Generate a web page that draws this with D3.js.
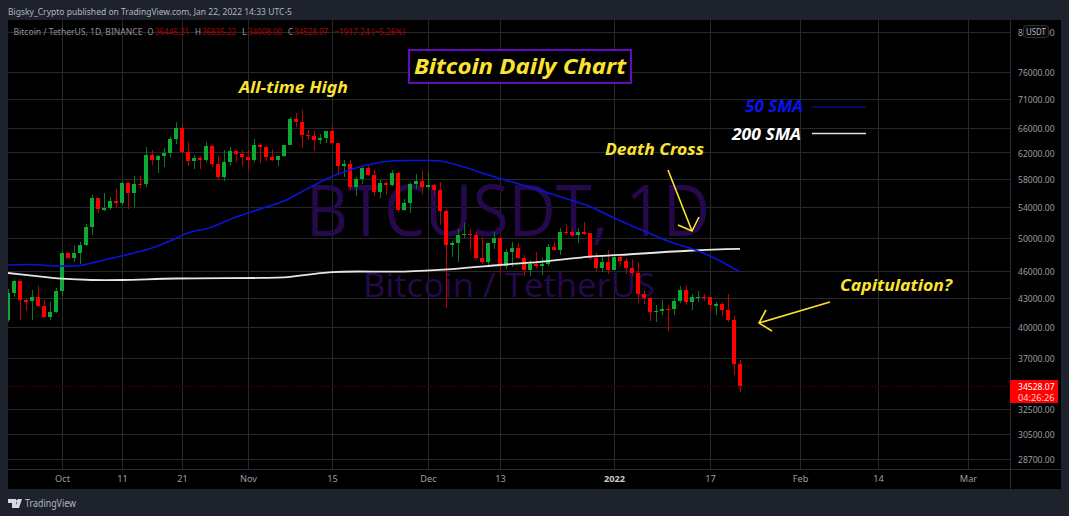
<!DOCTYPE html>
<html><head><meta charset="utf-8">
<style>html,body{margin:0;padding:0;background:#1e222d}svg{display:block}</style>
<script src="https://cdn.jsdelivr.net/npm/d3@7"></script></head><body><div id="c"></div>
<script>
const startDay = "2021-09-22";
const opens = [40700,43560,44880,42810,42670,43160,42147,41026,41522,43820,48141,47634,48200,49224,51471,55315,53785,53951,54949,54659,57471,56006,57370,57347,61672,60875,61528,62036,64280,66001,62193,60688,61286,60852,63078,60328,58413,60575,62253,61859,61299,60911,63254,62896,61395,60940,61470,63273,67525,66947,64882,64774,64122,64380,65519,63606,60058,60344,56891,58057,59707,58617,56247,57541,57138,58960,53723,54716,57274,57776,56950,57184,56484,53601,49152,49396,50441,50588,50471,47535,47140,49389,50053,46702,48336,48864,47632,46133,46834,46682,46914,48887,48588,50838,50820,50399,50775,50701,47543,46464,47120,46217,47722,47286,46446,45832,43451,43082,41566,41679,41864,41820,42735,43920,42591,43099,43172,43118,42250,42375,41744,40680,36445];
const highs = [44000,45000,45200,42966,43950,44350,42787,42590,44141,48495,48336,49228,49536,51886,55750,55332,56100,55489,56561,57839,57680,58550,58532,62933,62378,61718,62695,64486,67000,66639,63732,61747,61500,63710,63293,61496,62499,62980,62359,62405,62437,64270,63500,63086,62603,61560,63286,67789,68524,69000,65600,65450,65000,65550,66401,63617,60840,60976,58320,59845,60029,59444,57850,57700,59398,59150,55280,57445,58865,59176,59053,57375,57600,53859,49699,51200,51936,51200,50797,50125,49485,50777,50205,48700,49500,49436,48004,47360,48300,47537,49328,49576,51375,51864,51156,51280,52088,50704,48139,47900,48548,47954,47990,47570,47505,47070,43783,43145,42300,42786,42248,43000,44322,44500,43447,43800,43475,43194,42650,42575,43505,41100,36835];
const lows = [40550,43100,40750,41646,40750,42098,40888,40753,41410,43283,47430,47088,46891,49022,50382,53357,53617,53661,54080,54415,53879,54167,56818,56850,60150,58963,59844,61322,63481,62000,60000,59562,59510,60650,59817,58000,57820,60174,60673,59945,59405,60624,60382,60677,60721,60050,61322,63273,66222,62822,64100,62278,63360,63576,63400,58574,58373,56474,55600,57353,58486,55610,55317,55837,57000,53500,53610,53256,56666,55875,56458,55777,51680,42000,47727,47100,50039,48600,47320,46852,46751,48638,45672,46290,46547,47511,45456,45500,46406,45558,46630,48421,47920,50456,50200,49412,50449,47313,46096,45900,45678,46208,46654,45696,45516,42500,42430,40610,40501,41200,39650,41268,42450,42311,41742,42578,42691,41540,41268,41138,40500,35440,34008];
const closes = [43560,44880,42840,42670,43160,42147,41026,41522,43790,48141,47634,48200,49224,51471,55315,53785,53951,54949,54659,57471,56006,57370,57347,61672,60875,61528,62036,64280,66001,62193,60688,61286,60852,63078,60328,58413,60575,62253,61859,61299,60911,63219,62896,61395,60937,61470,63273,67525,66947,64882,64774,64122,64380,65519,63606,60058,60344,56891,58052,59707,58622,56247,57541,57138,58960,53726,54721,57274,57776,56950,57184,56480,53601,49152,49396,50441,50588,50471,47545,47140,49389,50053,46702,48343,48864,47632,46131,46834,46681,46914,48887,48588,50838,50820,50400,50775,50701,47543,46464,47120,46216,47722,47286,46446,45832,43451,43082,41566,41679,41864,41822,42735,43920,42591,43099,43177,43113,42250,42375,41744,40680,36445,34528];

const sma50Dates = ["2021-09-22","2021-09-26","2021-09-30","2021-10-04","2021-10-07","2021-10-13","2021-10-16","2021-10-19","2021-10-22","2021-10-26","2021-10-30","2021-11-03","2021-11-07","2021-11-10","2021-11-15","2021-11-19","2021-11-24","2021-11-30","2021-12-03","2021-12-07","2021-12-10","2021-12-15","2021-12-20","2021-12-25","2021-12-28","2022-01-01","2022-01-06","2022-01-10","2022-01-15","2022-01-18","2022-01-22"];
const sma50Values = [46760,46820,46640,46700,47180,48200,48810,49670,50680,51450,52760,53840,54930,56260,58420,59690,60680,60830,60750,59840,58950,57630,56340,55000,54190,52630,50950,49670,48440,47500,45940];
const sma200Dates = ["2021-09-22","2021-09-26","2021-10-01","2021-10-06","2021-10-11","2021-10-20","2021-11-03","2021-11-07","2021-11-15","2021-11-27","2021-12-05","2021-12-13","2021-12-21","2021-12-28","2022-01-02","2022-01-14","2022-01-22"];
const sma200Values = [45830,45520,45180,45030,45030,45200,45260,45320,45940,46000,46290,46760,47230,47770,47960,48500,48690];

const priceTicks = [84000,76000,71000,66000,62000,58000,54000,50000,46000,43000,40000,37000,32500,30500,28700];
const timeTickDates = ["2021-10-01","2021-10-11","2021-10-21","2021-11-01","2021-11-15","2021-12-01","2021-12-13","2022-01-01","2022-01-17","2022-02-01","2022-02-14","2022-03-01"];
const timeTickLabels = ["Oct","11","21","Nov","15","Dec","13","2022","17","Feb","14","Mar"];
const lastPrice = 34528.07;
const countdown = "04:26:26";

const W=1069,H=516, L=8,R=1061,T=20,B=489, PX=1010, TY=469;
const UI="'Noto Sans',sans-serif", ANN="'Noto Sans',sans-serif";
const day=s=>new Date(s+"T00:00:00Z");
const x=d3.scaleUtc().domain([day("2021-09-22"),day("2022-03-01")]).range([8,968]);
const y=d3.scaleLog().domain([76000,28700]).range([72,459]);
const svg=d3.select("#c").append("svg").attr("width",W).attr("height",H).attr("viewBox",[0,0,W,H]);
svg.append("rect").attr("width",W).attr("height",H).attr("fill","#1e222d");
svg.append("rect").attr("x",L).attr("y",T).attr("width",R-L).attr("height",B-T).attr("fill","#000");
const defs=svg.append("defs");
defs.append("clipPath").attr("id","plot").append("rect").attr("x",L).attr("y",T).attr("width",PX-L).attr("height",TY-T);

// grid
const grid=svg.append("g").attr("shape-rendering","crispEdges").attr("stroke","#282828");
grid.selectAll("line.h").data(priceTicks).join("line").attr("class","h").attr("x1",L).attr("x2",PX).attr("y1",d=>y(d)).attr("y2",d=>y(d));
grid.selectAll("line.v").data(timeTickDates).join("line").attr("class","v").attr("y1",T).attr("y2",TY).attr("x1",d=>x(day(d))).attr("x2",d=>x(day(d)));

// watermark
const wm=svg.append("g").attr("fill","#26094c").attr("text-anchor","middle").attr("font-family","'Open Sans',sans-serif");
wm.append("text").attr("x",508).attr("y",236).attr("font-size",72).attr("textLength",404).attr("lengthAdjust","spacingAndGlyphs").text("BTCUSDT, 1D");
wm.append("text").attr("x",509).attr("y",297).attr("font-size",33).attr("textLength",292).attr("lengthAdjust","spacingAndGlyphs").text("Bitcoin / TetherUS");

const plot=svg.append("g").attr("clip-path","url(#plot)");
// candles
const candles=d3.range(opens.length).map(i=>{const t=day(startDay);t.setUTCDate(t.getUTCDate()+i);return{t,o:opens[i],h:highs[i],l:lows[i],c:closes[i]}});
const up=d=>d.c>=d.o;
const cg=plot.append("g").attr("shape-rendering","crispEdges");
cg.selectAll("line").data(candles).join("line")
 .attr("x1",d=>x(d.t)).attr("x2",d=>x(d.t)).attr("y1",d=>y(d.h)).attr("y2",d=>y(d.l))
 .attr("stroke",d=>up(d)?"#067a1e":"#c00000");
cg.selectAll("rect").data(candles).join("rect")
 .attr("x",d=>x(d.t)-2).attr("width",4)
 .attr("y",d=>y(Math.max(d.o,d.c))).attr("height",d=>Math.max(1.5,Math.abs(y(d.o)-y(d.c))))
 .attr("fill",d=>up(d)?"#0caa32":"#ff0000");

// SMA lines
const line=d3.line().curve(d3.curveCatmullRom).x(d=>x(d[0])).y(d=>y(d[1]));
plot.append("path").datum(sma200Dates.map((d,i)=>[day(d),sma200Values[i]])).attr("d",line).attr("fill","none").attr("stroke","#e6e6e6").attr("stroke-width",1.8);
plot.append("path").datum(sma50Dates.map((d,i)=>[day(d),sma50Values[i]])).attr("d",line).attr("fill","none").attr("stroke","#0a14d8").attr("stroke-width",1.6);

// last price dotted line
svg.append("line").attr("x1",L).attr("x2",PX).attr("y1",Math.round(y(lastPrice))+.5).attr("y2",Math.round(y(lastPrice))+.5)
 .attr("stroke","#6a0000").attr("stroke-dasharray","1,2");

// frame lines
const fr=svg.append("g").attr("stroke","#2a2e39").attr("shape-rendering","crispEdges");
fr.append("line").attr("x1",PX).attr("x2",PX).attr("y1",T).attr("y2",B);
fr.append("line").attr("x1",L).attr("x2",R).attr("y1",TY).attr("y2",TY);

// axes
const axR=svg.append("g").attr("transform",`translate(${PX},0)`).call(d3.axisRight(y).tickValues(priceTicks).tickSize(0).tickPadding(8).tickFormat(d3.format(".2f")));
axR.select(".domain").remove();
axR.selectAll("text").attr("fill","#9b9ea3").attr("font-family",UI).attr("font-size",9.8).attr("textLength",36.6).attr("lengthAdjust","spacingAndGlyphs");
const axB=svg.append("g").attr("transform",`translate(0,${TY})`).call(d3.axisBottom(x).tickValues(timeTickDates.map(day)).tickSize(0).tickPadding(6).tickFormat((d,i)=>timeTickLabels[i]));
axB.select(".domain").remove();
axB.selectAll("text").attr("fill","#9b9ea3").attr("font-family",UI).attr("font-size",9.2);
axB.selectAll("text").filter((d,i)=>timeTickLabels[i]==="2022").attr("font-weight","bold").attr("fill","#c8cad0");

// USDT chip
svg.append("rect").attr("x",1023.5).attr("y",25.5).attr("width",25).attr("height",12).attr("rx",3).attr("fill","#0a0a0a").attr("stroke","#2a2e39");
svg.append("text").attr("x",1026).attr("y",34.5).attr("fill","#b2b5be").attr("font-family",UI).attr("font-size",9).attr("textLength",20).attr("lengthAdjust","spacingAndGlyphs").text("USDT");

// price label
svg.append("rect").attr("x",PX).attr("y",380).attr("width",48).attr("height",23).attr("fill","#ff0000");
svg.append("text").attr("x",1018).attr("y",389.5).attr("fill","#fff").attr("font-family",UI).attr("font-size",9.6).attr("textLength",36.6).attr("lengthAdjust","spacingAndGlyphs").text(lastPrice.toFixed(2));
svg.append("text").attr("x",1018).attr("y",400.5).attr("fill","#ffd0d0").attr("font-family",UI).attr("font-size",9.6).attr("textLength",36.6).attr("lengthAdjust","spacingAndGlyphs").text(countdown);

// header
svg.append("text").attr("x",8).attr("y",15).attr("fill","#b2b5be").attr("font-family",UI).attr("font-size",9.6).attr("textLength",284).attr("lengthAdjust","spacingAndGlyphs").text("Bigsky_Crypto published on TradingView.com, Jan 22, 2022 14:33 UTC-5");
const hdr=(t,xx,w,c)=>svg.append("text").attr("x",xx).attr("y",35).attr("fill",c).attr("font-family",UI).attr("font-size",9.4).attr("textLength",w).attr("lengthAdjust","spacingAndGlyphs").text(t);
const grey="#8f9298", dred="#b00000";
hdr("Bitcoin / TetherUS, 1D, BINANCE",13.5,129,grey);
hdr("O",147.5,6,grey); hdr("36445.31",155,34,dred);
hdr("H",195,6,grey); hdr("36835.22",202,34,dred);
hdr("L",242,5,grey); hdr("34008.00",248,34,dred);
hdr("C",288,5,grey); hdr("34528.07",294,34,dred);
hdr("−1917.24 (−5.26%)",334,71,dred);

// title & annotations
svg.append("rect").attr("x",409).attr("y",50).attr("width",222).attr("height",33).attr("fill","#000").attr("stroke","#7f0df0").attr("stroke-width",1.6);
const ann=(t,xx,yy,fs,c,w)=>svg.append("text").attr("x",xx).attr("y",yy).attr("fill",c).attr("font-family",ANN).attr("font-weight","bold").attr("font-style","italic").attr("font-size",fs).attr("textLength",w).attr("lengthAdjust","spacingAndGlyphs").text(t);
const yel="#fbe330";
ann("Bitcoin Daily Chart",414,74,22,yel,212);
ann("All-time High",239,93,16,yel,109);
ann("Death Cross",605,155,16,yel,99);
ann("Capitulation?",840,291,16,yel,112);
ann("50 SMA",745,112,16,"#0a14ee",58);
ann("200 SMA",732,140,16,"#fff",69);

// legend lines
svg.append("line").attr("x1",812).attr("x2",866).attr("y1",107).attr("y2",107).attr("stroke","#0a14c8").attr("stroke-width",1.2);
svg.append("line").attr("x1",812).attr("x2",866).attr("y1",133.5).attr("y2",133.5).attr("stroke","#ddd").attr("stroke-width",1.5);

// arrows
const arrow=(pts)=>svg.append("polyline").attr("points",pts).attr("fill","none").attr("stroke",yel).attr("stroke-width",1.6);
arrow("668,170 692,231"); arrow("678,225 692,231 699,217");
arrow("830,302 759,323"); arrow("766,310 759,323 772,331");

// TradingView logo
const lo=svg.append("g").attr("fill","#d8dae0");
lo.append("path").attr("d","M8 499h8v9h-4v-5h-4zM18 499h4l-3 9h-4z");
lo.append("circle").attr("cx",17.5).attr("cy",501).attr("r",1.6);
svg.append("text").attr("x",25).attr("y",507).attr("fill","#b2b5be").attr("font-family",UI).attr("font-size",10).attr("textLength",51).attr("lengthAdjust","spacingAndGlyphs").text("TradingView");
</script></body></html>
